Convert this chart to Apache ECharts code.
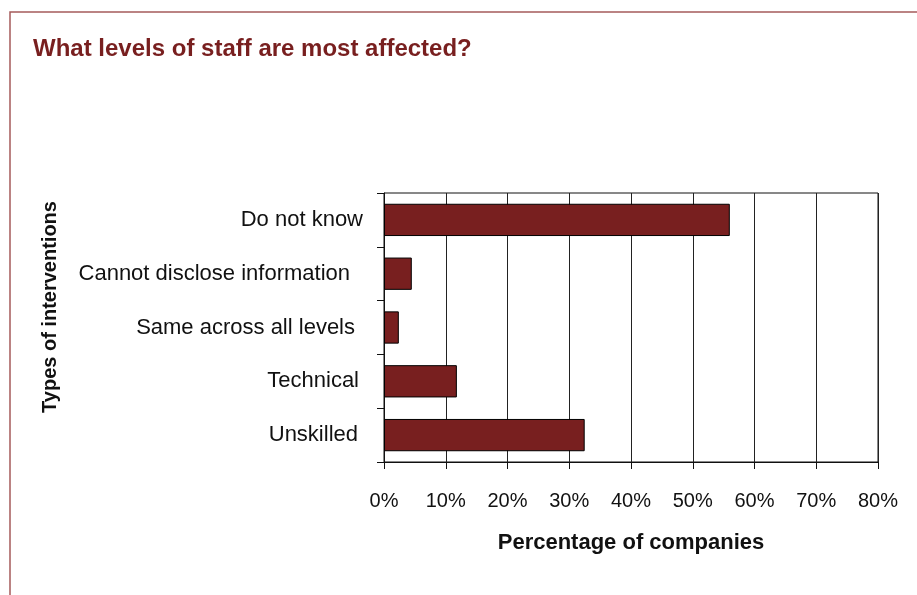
<!DOCTYPE html>
<html>
<head>
<meta charset="utf-8">
<script src="https://cdn.jsdelivr.net/npm/echarts@6/dist/echarts.min.js"></script>
<style>
  html, body { margin: 0; padding: 0; background: #fff; }
  #chart { width: 917px; height: 595px; }
</style>
</head>
<body>
<div id="chart"></div>
<script>
// Staff levels affected, share of companies (%)
const categories = ['Do not know', 'Cannot disclose information', 'Same across all levels', 'Technical', 'Unskilled'];
const shareOfCompanies = [56, 4.5, 2.4, 11.8, 32.5];
const xTicks = [0, 10, 20, 30, 40, 50, 60, 70, 80];

// extra right padding per category label (Excel-like ragged alignment)
const labelPad = [0, 13, 8, 4, 5];

const FONT = '"Liberation Sans", Arial, Helvetica, sans-serif';
const BRAND = '#781f1f';

const chart = echarts.init(document.getElementById('chart'), null, { renderer: 'canvas' });

const rich = {};
labelPad.forEach((p, i) => {
  rich['c' + i] = { fontFamily: FONT, fontSize: 22, color: '#111', padding: [0, p, 0, 0] };
});

chart.setOption({
  animation: false,
  backgroundColor: '#fff',
  title: {
    text: 'What levels of staff are most affected?',
    left: 28,
    top: 32,
    textStyle: { fontFamily: FONT, fontSize: 24, fontWeight: 'bold', color: BRAND }
  },
  graphic: [
    {
      type: 'rect',
      shape: { x: 10, y: 12, width: 1000, height: 1000 },
      style: { fill: 'none', stroke: '#a55b5b', lineWidth: 1.5 },
      silent: true
    },
    {
      type: 'text',
      x: 50,
      y: 307,
      rotation: Math.PI / 2,
      style: {
        text: 'Types of interventions',
        font: 'bold 20px ' + FONT,
        fill: '#111',
        textAlign: 'center',
        textVerticalAlign: 'middle'
      }
    }
  ],
  grid: {
    left: 384,
    right: 39,
    top: 193,
    bottom: 133,
    show: true,
    borderColor: '#111',
    borderWidth: 1,
    containLabel: false
  },
  xAxis: {
    type: 'value',
    min: 0,
    max: 80,
    interval: 10,
    name: 'Percentage of companies',
    nameLocation: 'middle',
    nameGap: 70,
    nameTextStyle: { fontFamily: FONT, fontSize: 22, fontWeight: 'bold', color: '#111' },
    axisLine: { show: true, lineStyle: { color: '#111', width: 1 } },
    axisTick: { show: true, length: 7, lineStyle: { color: '#111' } },
    axisLabel: {
      margin: 29,
      fontFamily: FONT,
      fontSize: 20,
      color: '#111',
      formatter: v => (xTicks.includes(v) ? v + '%' : '')
    },
    splitLine: { show: true, lineStyle: { color: '#222', width: 1 } }
  },
  yAxis: {
    type: 'category',
    data: categories,
    inverse: true,
    axisLine: { show: true, lineStyle: { color: '#111', width: 1 } },
    axisTick: { show: true, length: 7, lineStyle: { color: '#111' } },
    axisLabel: {
      margin: 21,
      fontFamily: FONT,
      fontSize: 22,
      color: '#111',
      formatter: (val, idx) => '{c' + idx + '|' + val + '}',
      rich: rich
    },
    splitLine: { show: false }
  },
  series: [
    {
      type: 'bar',
      data: shareOfCompanies,
      barCategoryGap: '40%',
      itemStyle: { color: BRAND, borderColor: '#000', borderWidth: 1 }
    }
  ]
});
</script>
</body>
</html>
